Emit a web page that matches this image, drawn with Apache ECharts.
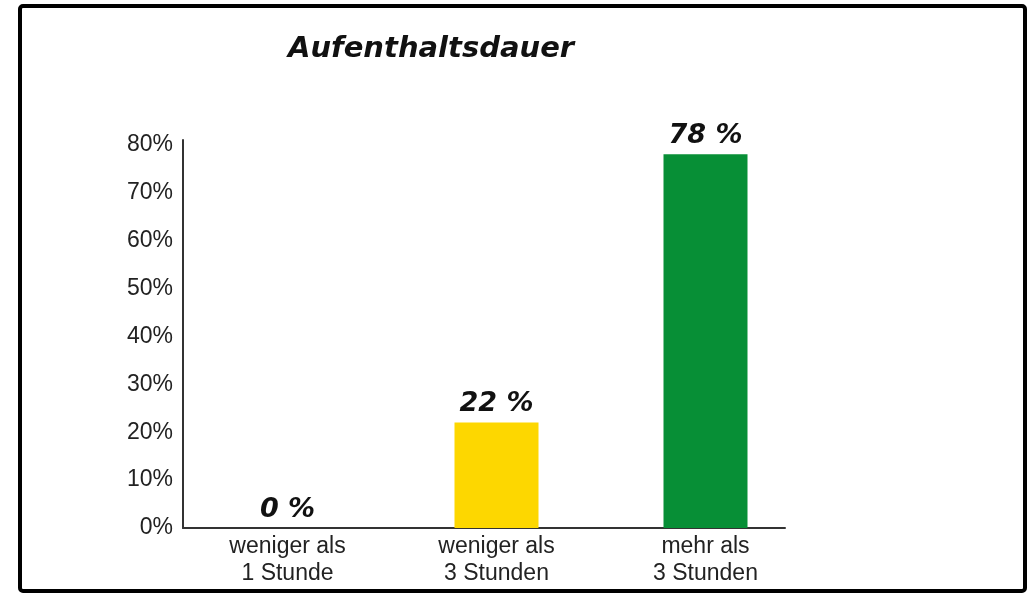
<!DOCTYPE html>
<html>
<head>
<meta charset="utf-8">
<script src="https://cdn.jsdelivr.net/npm/echarts@6/dist/echarts.min.js"></script>
<style>
  html, body { margin: 0; padding: 0; background: #fff; }
  #main { width: 1033px; height: 593px; }
</style>
</head>
<body>
<div id="main"></div>
<script>
// data
var categories = ['weniger als\n1 Stunde', 'weniger als\n3 Stunden', 'mehr als\n3 Stunden'];
var values = [0, 22, 78];
var barColors = ['#FDD700', '#FDD700', '#078F36'];
var yTicks = [0, 10, 20, 30, 40, 50, 60, 70, 80];

var chart = echarts.init(document.getElementById('main'));

var option = {
    backgroundColor: '#fff',
    animation: false,
    title: {
        text: 'Aufenthaltsdauer',
        left: 283,
        top: 30,
        textStyle: {
            fontFamily: 'DejaVu Sans',
            fontWeight: 'bold',
            fontStyle: 'italic',
            fontSize: 29,
            color: '#111'
        }
    },
    graphic: [{
        type: 'rect',
        shape: {x: 20, y: 6, width: 1005, height: 585, r: 3},
        style: {fill: 'none', stroke: '#000', lineWidth: 4},
        silent: true
    }],
    grid: [
        {left: 183, right: 223, top: 140, bottom: 65},
        // only used for the shorter baseline
        {left: 183, right: 248, top: 140, bottom: 65}
    ],
    xAxis: [
        {
            type: 'category',
            gridIndex: 0,
            data: categories,
            axisLine: {show: false},
            axisTick: {show: false},
            axisLabel: {
                margin: 5,
                fontFamily: 'Liberation Sans',
                fontSize: 23,
                lineHeight: 27,
                color: '#222'
            }
        },
        {
            type: 'value',
            gridIndex: 1,
            min: 0,
            max: 1,
            axisLine: {show: true, lineStyle: {color: '#333', width: 2}},
            axisTick: {show: false},
            axisLabel: {show: false},
            splitLine: {show: false}
        }
    ],
    yAxis: [
        {
            type: 'value',
            gridIndex: 0,
            min: 0,
            max: 81,
            interval: 10,
            axisLine: {show: true, lineStyle: {color: '#333', width: 2}},
            axisTick: {show: false},
            splitLine: {show: false},
            axisLabel: {
                margin: 10,
                fontFamily: 'Liberation Sans',
                fontSize: 23,
                color: '#222',
                formatter: function (v) {
                    return yTicks.indexOf(v) >= 0 ? v + '%' : '';
                }
            }
        },
        {
            type: 'value',
            gridIndex: 1,
            show: false,
            min: 0,
            max: 81
        }
    ],
    series: [{
        type: 'bar',
        xAxisIndex: 0,
        yAxisIndex: 0,
        barWidth: 84,
        data: values.map(function (v, i) {
            return {value: v, itemStyle: {color: barColors[i]}};
        }),
        label: {
            show: true,
            position: 'top',
            distance: 5,
            formatter: '{c} %',
            fontFamily: 'DejaVu Sans',
            fontWeight: 'bold',
            fontStyle: 'italic',
            fontSize: 27,
            color: '#111'
        }
    }]
};

chart.setOption(option);
</script>
</body>
</html>
